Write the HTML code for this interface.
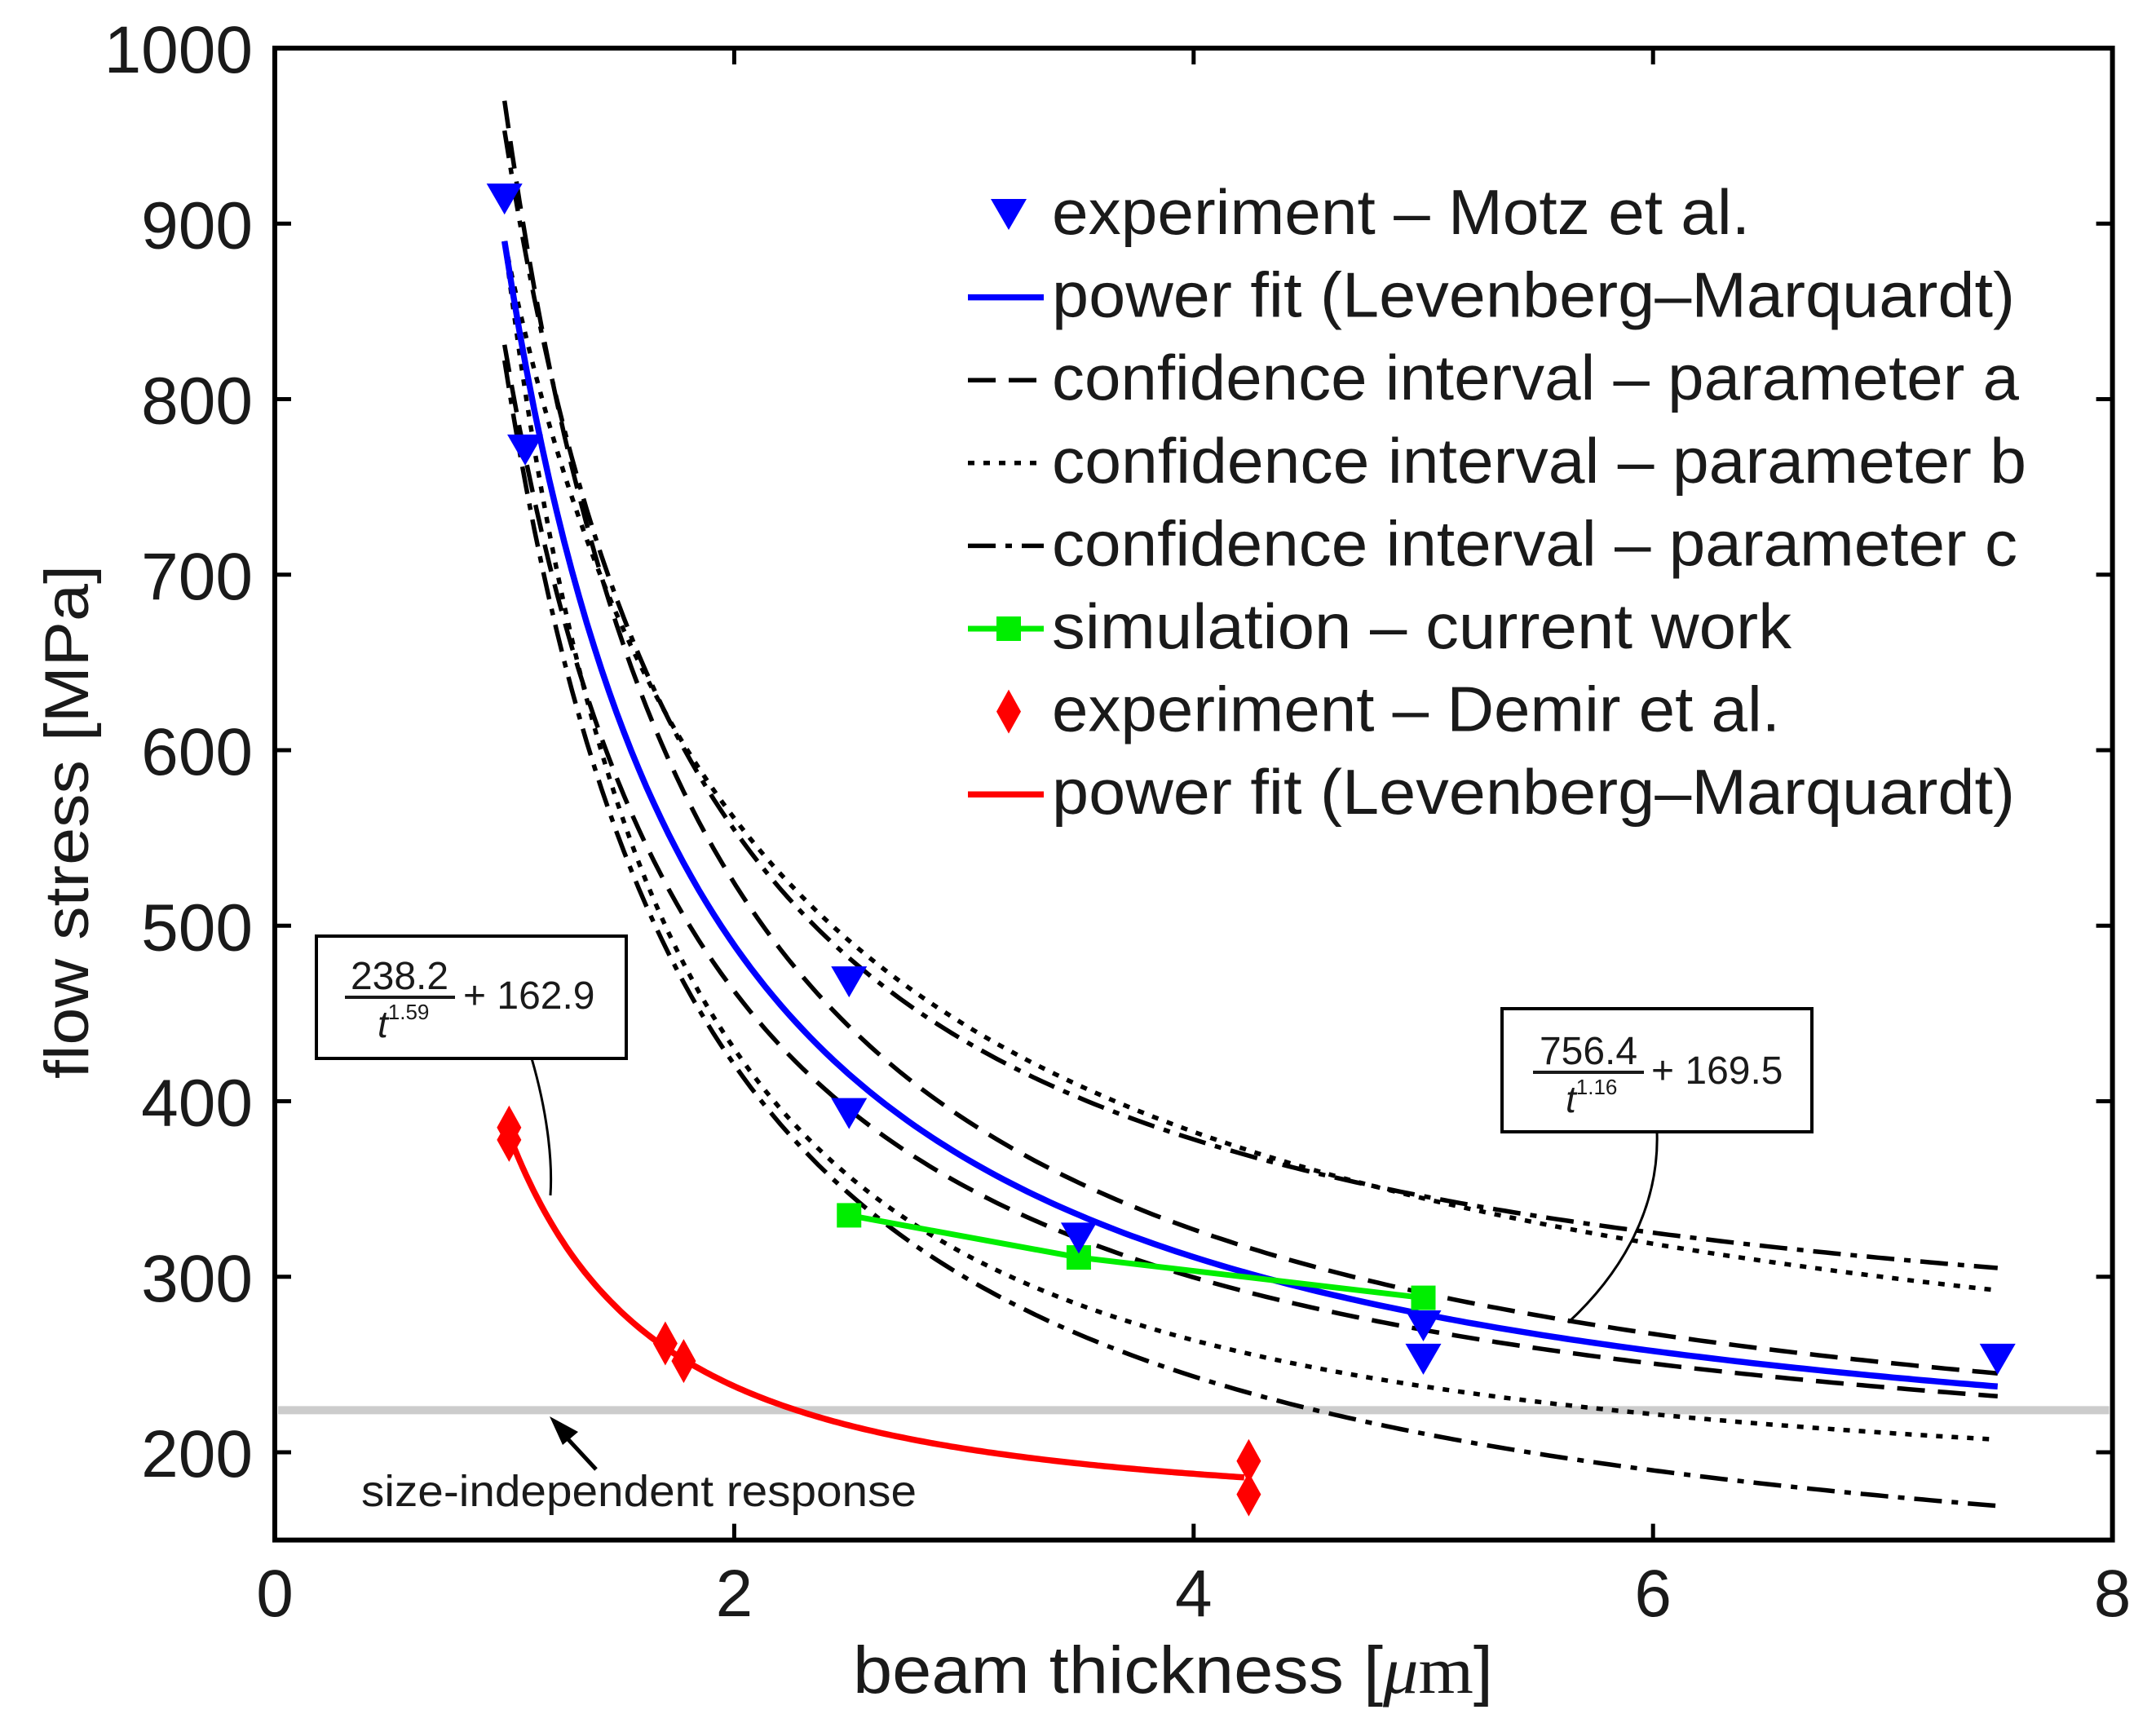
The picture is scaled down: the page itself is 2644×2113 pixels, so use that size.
<!DOCTYPE html>
<html><head><meta charset="utf-8"><style>
html,body{margin:0;padding:0;background:#fff}
svg{display:block}
text{font-family:"Liberation Sans",sans-serif;fill:#1a1a1a}
</style></head><body>
<svg id="chart" width="2644" height="2113" viewBox="0 0 2644 2113" xmlns="http://www.w3.org/2000/svg">
<rect x="0" y="0" width="2644" height="2113" fill="#fff"/>
<g id="plot"></g>
<g id="axes"></g>
<g id="legend"></g>
<g id="annot"></g>
</svg>
<script>
const xTicks=[0,2,4,6,8];
const yTicks=[200,300,400,500,600,700,800,900,1000];
const motzT=[1.0,1.09,2.5,2.5,3.5,5.0,5.0,7.5];
const motzS=[914,771,468,393,322,272,253,253];
const demirT=[1.02,1.02,1.7,1.78,4.24,4.24];
const demirS=[385,378,262,252,195,176];
const simT=[2.5,3.5,5.0];
const simS=[335,311,288];
const blueFit=[720,1.175,170];
const redFit=[225,1.59,162.9];
const ciA=[[800,1.175,170],[661,1.175,170]];
const ciB=[[720,0.88,170],[720,1.47,170]];
const ciC=[[715,1.175,238],[720,1.175,102]];
const sizeIndependent=224;
const fitRange=[1.0,7.5];
const redRange=[1.03,4.22];

const NS='http://www.w3.org/2000/svg';
const X0=337,XS=281.7,Y0=59,YS=2.1525;
function xs(t){return X0+t*XS;}
function ys(v){return Y0+(1000-v)*YS;}
function mk(tag,attrs,parent){const e=document.createElementNS(NS,tag);for(const k in attrs)e.setAttribute(k,attrs[k]);parent.appendChild(e);return e;}
const plot=document.getElementById('plot'),axes=document.getElementById('axes'),legend=document.getElementById('legend'),annot=document.getElementById('annot');

function curvePath(p,r){let d='';const n=200;for(let i=0;i<=n;i++){const t=r[0]+(r[1]-r[0])*i/n;const v=p[0]/Math.pow(t,p[1])+p[2];d+=(i?'L':'M')+xs(t).toFixed(1)+','+ys(v).toFixed(1);}return d;}

let g=mk('line',{x1:xs(0)+4,x2:xs(8)-4,y1:ys(sizeIndependent),y2:ys(sizeIndependent),stroke:'#cccccc','stroke-width':10},plot);



const ciStyles=[['ci-a','34,16'],['ci-b','8,11'],['ci-c','34,12,8,12']];
[ciA,ciB,ciC].forEach((set,si)=>{set.forEach((p,j)=>{
  const e=mk('path',{d:curvePath(p,fitRange),fill:'none',stroke:'#000','stroke-width':5.5,'stroke-dasharray':ciStyles[si][1]},plot);
  
  
});});

let bf=mk('path',{d:curvePath(blueFit,fitRange),fill:'none',stroke:'#0000ff','stroke-width':7.5},plot);


let rf=mk('path',{d:curvePath(redFit,redRange),fill:'none',stroke:'#ff0000','stroke-width':7.5},plot);



let sd='';simT.forEach((t,i)=>{sd+=(i?'L':'M')+xs(t)+','+ys(simS[i]);});
let sl=mk('path',{d:sd,fill:'none',stroke:'#00ee00','stroke-width':7},plot);


simT.forEach((t,i)=>{const x=xs(t),y=ys(simS[i]);
  const e=mk('rect',{x:x-15,y:y-15,width:30,height:30,fill:'#00ee00'},plot);
  
  });

function tri(x,y,w,h){return (x-w/2)+','+(y-h/2)+' '+(x+w/2)+','+(y-h/2)+' '+x+','+(y+h/2);}
function dia(x,y,w,h){return x+','+(y-h/2)+' '+(x+w/2)+','+y+' '+x+','+(y+h/2)+' '+(x-w/2)+','+y;}
motzT.forEach((t,i)=>{const e=mk('polygon',{points:tri(xs(t),ys(motzS[i]),44,38),fill:'#0000ff'},plot);
  
  });
demirT.forEach((t,i)=>{const e=mk('polygon',{points:dia(xs(t),ys(demirS[i]),30,54),fill:'#ff0000'},plot);
  
  });

let box=mk('rect',{x:X0,y:Y0,width:xs(8)-X0,height:ys(150)-Y0,fill:'none',stroke:'#000','stroke-width':6},axes);


xTicks.forEach(t=>{const x=xs(t);
  mk('line',{x1:x,x2:x,y1:ys(150),y2:ys(150)-20,stroke:'#000','stroke-width':5},axes);
  mk('line',{x1:x,x2:x,y1:Y0,y2:Y0+20,stroke:'#000','stroke-width':5},axes);
  const e=mk('text',{x:x,y:1982,'font-size':82,'text-anchor':'middle'},axes);e.textContent=t;
  
  });
yTicks.forEach(v=>{const y=ys(v);
  mk('line',{x1:X0,x2:X0+20,y1:y,y2:y,stroke:'#000','stroke-width':5},axes);
  mk('line',{x1:xs(8),x2:xs(8)-20,y1:y,y2:y,stroke:'#000','stroke-width':5},axes);
  const e=mk('text',{x:310,y:y+30,'font-size':82,'text-anchor':'end'},axes);e.textContent=v;
  
  });
let xt=mk('text',{x:1046,y:2076,'font-size':82,textLength:785,lengthAdjust:'spacingAndGlyphs'},axes);
xt.innerHTML='beam thickness [<tspan font-family="Liberation Serif" font-style="italic">μ</tspan><tspan font-family="Liberation Serif">m</tspan>]';


let yt=mk('text',{x:0,y:0,'font-size':76,'text-anchor':'middle',transform:'translate(108,1008) rotate(-90)',textLength:630,lengthAdjust:'spacingAndGlyphs'},axes);
yt.textContent='flow stress [MPa]';



const legLabels=['experiment – Motz et al.','power fit (Levenberg–Marquardt)','confidence interval – parameter a','confidence interval – parameter b','confidence interval – parameter c','simulation – current work','experiment – Demir et al.','power fit (Levenberg–Marquardt)'];
const legWidths=[856,1181,1186,1195,1184,907,893,1181];
legLabels.forEach((s,i)=>{const cy=263+i*101.6;
  const e=mk('text',{x:1290,y:cy+24,'font-size':78,textLength:legWidths[i],lengthAdjust:'spacingAndGlyphs'},legend);e.textContent=s;
  
  
  const x1=1187,x2=1280,xm=1237;let m;
  if(i==0)m=mk('polygon',{points:tri(xm,cy,44,38),fill:'#0000ff'},legend);
  else if(i==1)m=mk('line',{x1:x1,x2:x2,y1:cy,y2:cy,stroke:'#0000ff','stroke-width':7.5},legend);
  else if(i<5)m=mk('line',{x1:x1,x2:x2,y1:cy,y2:cy,stroke:'#000','stroke-width':5.5,'stroke-dasharray':ciStyles[i-2][1]},legend);
  else if(i==5){mk('line',{x1:x1,x2:x2,y1:cy,y2:cy,stroke:'#00ee00','stroke-width':7},legend);m=mk('rect',{x:xm-15,y:cy-15,width:30,height:30,fill:'#00ee00'},legend);}
  else if(i==6)m=mk('polygon',{points:dia(xm,cy,30,54),fill:'#ff0000'},legend);
  else m=mk('line',{x1:x1,x2:x2,y1:cy,y2:cy,stroke:'#ff0000','stroke-width':7.5},legend);
  
  
});
</script>
<svg style="position:absolute;left:0;top:0" width="2644" height="2113">
<g>
<path d="M652,1298 C670,1360 678,1420 675,1466" fill="none" stroke="#000" stroke-width="3"/>
<rect x="388" y="1148" width="380" height="150" fill="#fff" stroke="#000" stroke-width="4"/>
<text x="490" y="1213" font-size="48" text-anchor="middle">238.2</text>
<line x1="423" x2="558" y1="1223" y2="1223" stroke="#1a1a1a" stroke-width="4"/>
<text x="463" y="1272" font-size="46" font-family="Liberation Serif" font-style="italic">t<tspan font-family="Liberation Sans" font-style="normal" font-size="26" dy="-22">1.59</tspan></text>
<text x="568" y="1237" font-size="48">+ 162.9</text>
</g>
<g>
<path d="M2032,1388 C2035,1480 1990,1560 1923,1622" fill="none" stroke="#000" stroke-width="3"/>
<rect x="1842" y="1237" width="380" height="151" fill="#fff" stroke="#000" stroke-width="4"/>
<text x="1948" y="1305" font-size="48" text-anchor="middle">756.4</text>
<line x1="1880" x2="2016" y1="1315" y2="1315" stroke="#1a1a1a" stroke-width="4"/>
<text x="1920" y="1364" font-size="46" font-family="Liberation Serif" font-style="italic">t<tspan font-family="Liberation Sans" font-style="normal" font-size="26" dy="-22">1.16</tspan></text>
<text x="2025" y="1329" font-size="48">+ 169.5</text>
</g>
<line x1="731" y1="1802" x2="692" y2="1760" stroke="#000" stroke-width="5"/>
<polygon points="674,1737 709,1756 690,1772" fill="#000"/>
<text x="443" y="1847" font-size="54" textLength="681" lengthAdjust="spacingAndGlyphs">size-independent response</text>
</svg>
</body></html>
